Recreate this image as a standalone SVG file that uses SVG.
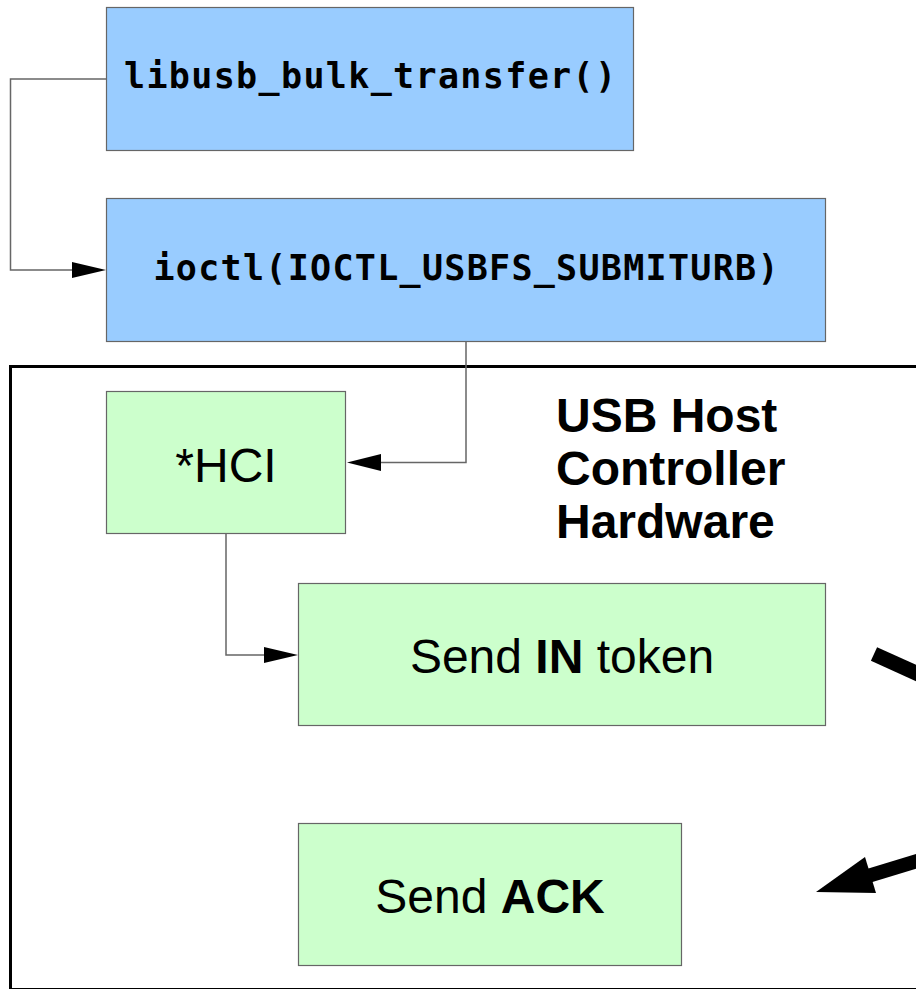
<svg xmlns="http://www.w3.org/2000/svg" width="916" height="989" viewBox="0 0 916 989">
<style>
.blue{fill:#99ccff;stroke:#666;stroke-width:1.2}
.green{fill:#ccffcc;stroke:#666;stroke-width:1.2}
.mono{font-family:"DejaVu Sans Mono","Liberation Mono",monospace;font-weight:bold;font-size:35px;fill:#000}
.sans{font-family:"Liberation Sans",Arial,sans-serif;font-size:48px;fill:#000}
.conn{fill:none;stroke:#666;stroke-width:1.5}
.head{fill:#000}
</style>
<rect width="916" height="989" fill="#fff"/>
<g id="frame">
<rect x="10.5" y="366.5" width="1000" height="623" fill="none" stroke="#000" stroke-width="3"/>
<text class="sans" font-weight="bold" font-size="47"><tspan x="556" y="432">USB Host</tspan><tspan x="556" y="485">Controller</tspan><tspan x="556" y="538">Hardware</tspan></text>
</g>
<g id="libusb">
<rect class="blue" x="106.5" y="7.5" width="527" height="143"/>
<text class="mono" x="370" y="88" text-anchor="middle" textLength="492" lengthAdjust="spacing">libusb_bulk_transfer()</text>
</g>
<g id="ioctl">
<rect class="blue" x="106.5" y="198.5" width="719" height="143"/>
<text class="mono" x="466" y="280" text-anchor="middle" textLength="625" lengthAdjust="spacing">ioctl(IOCTL_USBFS_SUBMITURB)</text>
</g>
<g id="hci">
<rect class="green" x="106.5" y="391.5" width="239" height="142"/>
<text class="sans" x="226" y="482" text-anchor="middle">*HCI</text>
</g>
<g id="sendin">
<rect class="green" x="298.5" y="583.5" width="527" height="142"/>
<text class="sans" x="562" y="673" text-anchor="middle">Send <tspan font-weight="bold">IN</tspan> token</text>
</g>
<g id="sendack">
<rect class="green" x="298.5" y="823.5" width="383" height="142"/>
<text class="sans" x="490" y="913" text-anchor="middle">Send <tspan font-weight="bold">ACK</tspan></text>
</g>
<g id="connectors">
<polyline class="conn" points="106,79 10.5,79 10.5,270 74,270"/>
<polygon class="head" points="106,270 72,262 72,278"/>
<polyline class="conn" points="466,342 466,462.5 380,462.5"/>
<polygon class="head" points="347,462.5 381,454 381,471"/>
<polyline class="conn" points="226,534 226,655 266,655"/>
<polygon class="head" points="298,655 264,647 264,663"/>
<line x1="874" y1="654" x2="960" y2="693" stroke="#000" stroke-width="15"/>
<line x1="868" y1="876" x2="960" y2="848" stroke="#000" stroke-width="14"/>
<polygon class="head" points="816,892 865,857 876,893"/>
</g>
</svg>
